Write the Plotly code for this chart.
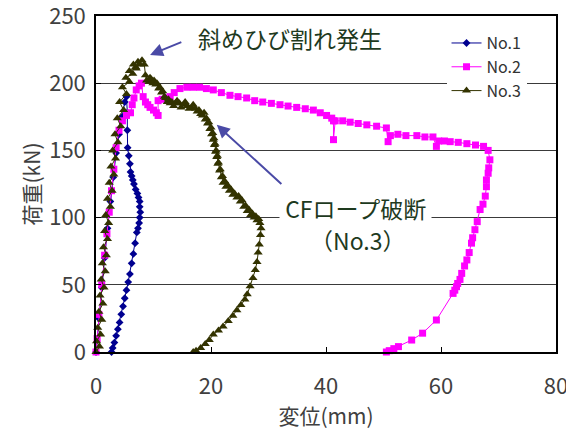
import plotly.graph_objects as go

# ---- data (displacement mm, load kN) ----
no1_x = [0, 0.5, 1.0, 1.5, 2.0, 2.5, 3.0, 3.5, 4.0, 4.5, 5.0, 5.3, 5.45, 5.45, 5.5,
         5.7, 5.9, 6.0, 6.2, 6.4, 6.6, 6.9, 7.2, 7.4, 7.6, 7.6, 7.7, 7.6, 7.5, 7.3, 7.1, 6.8,
         6.5, 6.2, 5.9, 5.6, 5.3, 5.0, 4.7, 4.4, 4.1, 3.8, 3.5, 3.2, 2.9, 2.7]
no1_y = [0, 25, 48, 70, 92, 112, 130, 148, 162, 175, 186, 190, 178, 165, 152,
         146, 140, 134, 131, 128, 125, 121, 118, 115, 112, 108, 104, 100, 96, 92, 89, 81,
         73, 66, 58, 52, 46, 40, 34, 28, 22, 17, 12, 7, 3, 0]

no2_x = [0, 0.2, 0.5, 1.0, 1.5, 1.9, 2.3, 2.7, 3.1, 3.5, 4.0, 4.6, 5.3, 6.0, 6.3, 6.6,
         7.0, 7.5, 7.9, 8.2, 8.6, 9.0, 9.4, 10.0, 10.5, 10.8, 10.8, 11.5,
         12.2, 12.9, 13.6, 14.6, 15.8, 16.9, 18.0, 19.2, 20.4, 21.8, 23.3, 24.7, 26.2,
         27.6, 29.0, 30.5, 32.0, 33.4, 34.9, 36.4, 37.8, 39.0, 40.1, 41.0, 41.3, 41.3,
         41.6, 42.9, 44.2, 45.6, 47.1, 48.8, 50.5, 50.8, 51.2, 52.5, 53.9, 55.8, 57.2,
         58.6, 59.2, 59.6, 60.6, 61.6, 63.0, 64.5, 66.0, 67.4, 68.2, 68.5, 68.3, 68.2,
         67.9, 67.9, 67.7, 67.3, 66.8, 66.3, 65.9, 65.5, 65.3, 64.9, 64.5, 64.1, 63.6,
         63.3, 62.9, 62.7, 62.4, 62.1, 59.2, 56.8, 54.9, 52.6, 51.8, 51.0, 50.5]
no2_y = [0, 10, 28, 50, 72, 88, 104, 120, 136, 152, 165, 172, 176, 178, 184, 189,
         195, 198, 200, 190, 186, 184, 182, 180, 178, 176, 187, 188,
         189, 190, 193, 196, 197, 197, 197, 196, 195, 193, 191, 190, 189,
         187, 186, 185, 184, 183, 182, 181, 180, 178, 176, 174, 172, 158,
         172, 172, 171, 170, 169, 168, 166.7, 156.5, 161, 162, 161, 161, 160,
         160, 153, 157, 157, 156.5, 156, 155, 154, 153, 150, 143, 137, 133,
         128, 123, 116, 110, 106, 97, 91, 85, 81, 74, 68.5, 64, 58.5,
         54, 51, 48.6, 46, 43.6, 23.8, 14, 8.9, 4, 2.5, 1, 0]

no3_x = [0, 0.6, 0.1, 0.8, 0.3, 1.0, 0.5, 1.2, 0.7, 1.4, 0.9, 1.6, 1.1, 1.8, 1.3, 2.0,
         1.5, 2.2, 1.7, 2.5, 2.0, 2.8, 2.3, 3.1, 2.6, 3.4, 2.9, 3.8, 3.3, 4.3, 3.7, 4.8,
         4.1, 5.3, 4.6, 5.8, 5.2, 6.4, 5.8, 6.9, 6.5, 7.3, 7.0, 7.6, 8.0, 8.4, 8.6, 8.8,
         9.2, 9.4, 9.6, 9.9, 10.1, 10.4, 10.6, 10.9, 11.1, 11.4, 11.6, 11.9, 12.1, 12.4,
         12.6, 12.9, 13.2, 13.5, 13.8, 14.1, 14.5, 14.8, 15.2, 15.5, 15.9, 16.2, 16.6,
         16.9, 17.3, 17.6, 17.9, 18.2, 18.5, 18.8, 19.0, 19.2, 19.4, 19.6, 19.8, 20.0,
         20.1, 20.3, 20.4, 20.5, 20.6, 20.7, 20.8, 20.9, 21.0, 21.1, 21.2, 21.3, 21.5,
         21.6, 21.8, 22.0, 22.1, 22.4, 22.6, 22.9, 23.2, 23.5, 23.8, 24.1, 24.5, 24.8,
         25.1, 25.4, 25.7, 26.0, 26.3, 26.6, 26.9, 27.2, 27.5, 27.8, 28.0, 28.3, 28.5,
         28.7, 28.6, 28.4, 28.2, 28.0, 27.7, 27.3, 26.8, 26.3, 25.9, 25.2, 24.5, 23.8,
         23.0, 22.1, 21.3, 20.4, 19.7, 19.0, 18.2, 17.4, 16.9]
no3_y = [0, 4, 8, 13, 18, 24, 30, 36, 42, 48, 54, 60, 66, 72, 78, 84,
         90, 96, 102, 108, 114, 120, 126, 132, 138, 144, 150, 156, 162, 168, 174, 180,
         186, 192, 197, 201, 204, 207, 209, 212, 214, 216, 211, 214, 217, 214, 206, 202,
         201, 204, 203, 200, 202, 199, 200, 196, 197, 193, 194, 190, 189, 186,
         188, 185, 186, 183, 185, 187, 185, 182, 184, 186, 183, 181, 182,
         184, 181, 179, 180, 177, 176, 178, 173, 174, 170, 171, 166, 167,
         162, 163, 158, 159, 154, 155, 149, 150, 145, 146, 140, 141, 135,
         136, 130, 131, 126, 127, 123, 124, 120, 121, 117, 118, 115, 116,
         112, 113, 108, 109, 105, 106, 102, 103, 100, 101, 98, 99, 96,
         92, 87, 80, 74, 67, 61, 55, 49, 43, 39, 35, 31, 27,
         23, 19, 16, 13, 9, 6, 3, 1, 0]

names = ["No.1", "No.2", "No.3"]
x_ticks = [0, 20, 40, 60, 80]
y_ticks = [0, 50, 100, 150, 200, 250]

FONT = "Noto Sans CJK JP, Noto Sans, sans-serif"
TEXT_GREEN = "#1e3a1e"
ARROW = "#4a4aa6"

fig = go.Figure()
fig.add_trace(go.Scatter(x=no1_x, y=no1_y, name=names[0], mode="lines+markers",
                         line=dict(color="#000090", width=1),
                         marker=dict(symbol="diamond", size=6, color="#000090"),
                         cliponaxis=False))
fig.add_trace(go.Scatter(x=no2_x, y=no2_y, name=names[1], mode="lines+markers",
                         line=dict(color="#ff00ff", width=1),
                         marker=dict(symbol="square", size=7, color="#ff00ff"),
                         cliponaxis=False))
fig.add_trace(go.Scatter(x=no3_x, y=no3_y, name=names[2], mode="lines+markers",
                         line=dict(color="#333300", width=1),
                         marker=dict(symbol="triangle-up", size=8, color="#333300"),
                         cliponaxis=False))

annotations = [
    dict(x=33.7, y=234, xref="x", yref="y", text="斜めひび割れ発生",
         showarrow=False, font=dict(family=FONT, size=23, color=TEXT_GREEN),
         xanchor="center", yanchor="middle"),
    dict(x=9.4, y=221, xref="x", yref="y", ax=15.1, ay=231, axref="x", ayref="y",
         text="", showarrow=True, arrowhead=2, arrowsize=1.3, arrowwidth=2,
         arrowcolor=ARROW),
    dict(x=45.2, y=107.3, xref="x", yref="y", text="\u00a0CFロープ破断\u00a0",
         showarrow=False, font=dict(family=FONT, size=23, color=TEXT_GREEN),
         bgcolor="white", borderpad=0),
    dict(x=45.4, y=83.5, xref="x", yref="y", text="（No.3）",
         showarrow=False, font=dict(family=FONT, size=23, color=TEXT_GREEN),
         bgcolor="white", borderpad=0),
    dict(x=21, y=169, xref="x", yref="y", ax=32.5, ay=124, axref="x", ayref="y",
         text="", showarrow=True, arrowhead=2, arrowsize=1.3, arrowwidth=2,
         arrowcolor=ARROW),
]

# the page body has an 8px margin, so the figure is sized/offset to fit 574x430
fig.update_layout(
    width=566, height=422, autosize=False,
    margin=dict(l=88, r=18, t=8, b=78),
    paper_bgcolor="white", plot_bgcolor="white",
    font=dict(family=FONT, color="#404040"),
    showlegend=True,
    legend=dict(x=0.762, y=0.97, xanchor="left", yanchor="top",
                bgcolor="white", borderwidth=0,
                font=dict(family=FONT, size=16, color="#333333"),
                itemwidth=30, tracegroupgap=0),
    annotations=annotations,
    xaxis=dict(range=[0, 80], tickvals=x_ticks, showgrid=False, zeroline=False,
               automargin=False, ticklabeloverflow="allow",
               showline=True, linecolor="black", linewidth=1.5, mirror=True,
               ticks="inside", ticklen=5, tickcolor="black", ticklabelstandoff=14,
               tickfont=dict(family=FONT, size=22, color="#404040"),
               title=dict(text="変位(mm)", font=dict(family=FONT, size=21, color="#404040"),
                          standoff=22)),
    yaxis=dict(range=[0, 250], tickvals=y_ticks, showgrid=True, gridcolor="#3a3a3a",
               gridwidth=1, zeroline=False, automargin=False, ticklabeloverflow="allow",
               showline=True, linecolor="black", linewidth=1.5, mirror=True,
               ticks="inside", ticklen=5, tickcolor="black", ticklabelstandoff=4,
               tickfont=dict(family=FONT, size=22, color="#404040"),
               title=dict(text="荷重(kN)", font=dict(family=FONT, size=21, color="#404040"),
                          standoff=3)),
)

fig.write_html("out.html")
